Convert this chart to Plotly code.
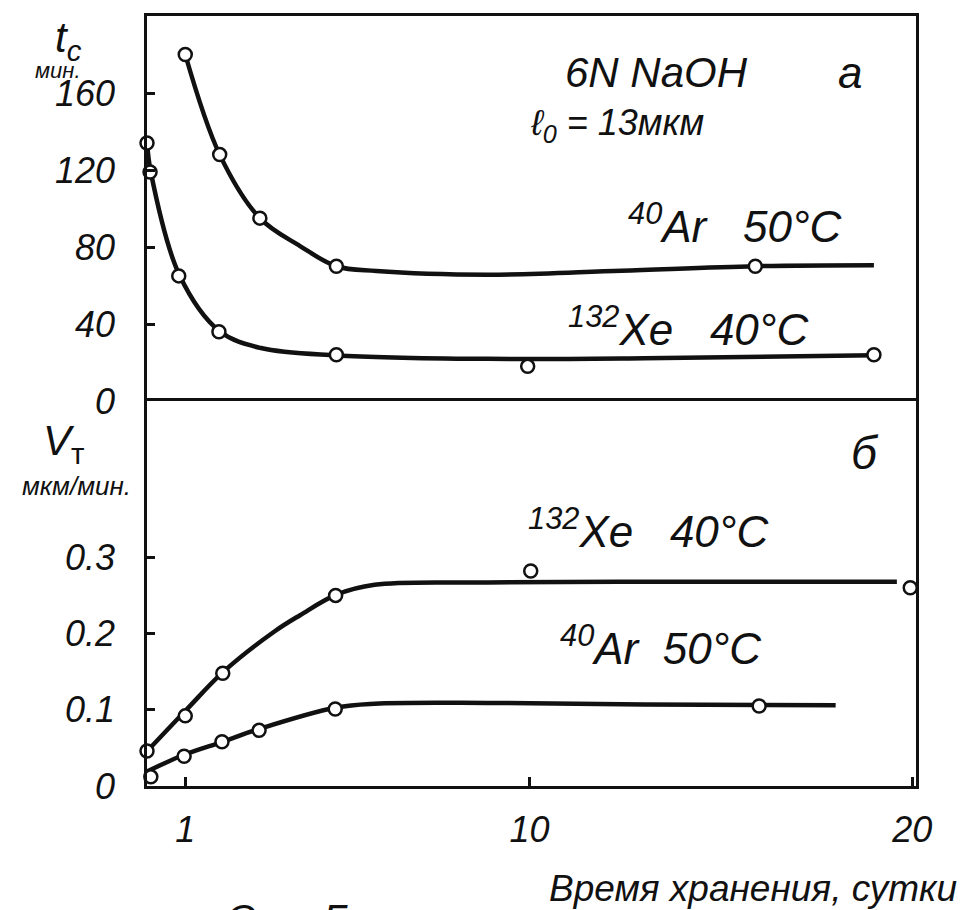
import plotly.graph_objects as go

# ---------------- data ----------------
# Upper panel: t_c (мин.) vs storage time (сутки)
ar_tc_x = [1.0, 1.9, 2.95, 4.95, 15.9]
ar_tc_y = [180, 128, 95, 70, 70]
xe_tc_x = [0.0, 0.08, 0.83, 1.88, 4.95, 9.95, 19.0]
xe_tc_y = [134, 119, 65, 36, 24, 18, 24]

# hand-drawn fitted curves (knots)
ar_tc_curve_x = [1.0, 1.9, 2.95, 4.0, 4.95, 6.0, 8.9, 12.4, 15.9, 19.0]
ar_tc_curve_y = [180, 128, 95, 80.5, 70, 67.5, 65.6, 67.7, 70, 70.5]
xe_tc_curve_x = [0.0, 0.1, 0.85, 1.9, 2.98, 4.96, 8.9, 13.0, 19.0]
xe_tc_curve_y = [134.4, 118.8, 65.3, 36.2, 27.5, 23.7, 21.9, 22.2, 23.8]

# Lower panel: V_T (мкм/мин.)
xe_v_x = [0.0, 1.0, 1.98, 4.93, 10.03, 19.95]
xe_v_y = [0.046, 0.092, 0.148, 0.25, 0.282, 0.26]
ar_v_x = [0.1, 0.97, 1.96, 2.93, 4.92, 16.0]
ar_v_y = [0.012, 0.039, 0.058, 0.073, 0.101, 0.105]

xe_v_curve_x = [0.0, 1.03, 2.0, 3.34, 4.0, 4.95, 5.95, 8.9, 15.0, 19.6]
xe_v_curve_y = [0.0455, 0.100, 0.150, 0.203, 0.224, 0.251, 0.264, 0.267, 0.268, 0.268]
ar_v_curve_x = [0.0, 0.97, 1.97, 2.94, 4.94, 5.95, 8.9, 13.0, 18.0]
ar_v_curve_y = [0.019, 0.041, 0.058, 0.075, 0.103, 0.108, 0.109, 0.107, 0.106]

x_ticks = [1, 10, 20]
x_ticktext = ["1", "10", "20"]
tc_ticks = [0, 40, 80, 120, 160]
tc_ticktext = ["0", "40", "80", "120", "160"]
v_ticks = [0, 0.1, 0.2, 0.3]
v_ticktext = ["0", "0.1", "0.2", "0.3"]

# ---------------- figure ----------------
FONT = "Liberation Sans"
INK = "#111111"

fig = go.Figure()

def curve(x, y, xa, ya):
    fig.add_trace(go.Scatter(x=x, y=y, xaxis=xa, yaxis=ya, mode="lines",
                             line=dict(color=INK, width=4.5, shape="spline", smoothing=1.0),
                             hoverinfo="skip", showlegend=False))

def points(x, y, xa, ya):
    fig.add_trace(go.Scatter(x=x, y=y, xaxis=xa, yaxis=ya, mode="markers",
                             marker=dict(symbol="circle", size=13, color="white",
                                         line=dict(color=INK, width=2.5)),
                             cliponaxis=False, showlegend=False))

curve(ar_tc_curve_x, ar_tc_curve_y, "x2", "y2")
curve(xe_tc_curve_x, xe_tc_curve_y, "x2", "y2")
curve(xe_v_curve_x, xe_v_curve_y, "x", "y")
curve(ar_v_curve_x, ar_v_curve_y, "x", "y")
points(ar_tc_x, ar_tc_y, "x2", "y2")
points(xe_tc_x, xe_tc_y, "x2", "y2")
points(xe_v_x, xe_v_y, "x", "y")
points(ar_v_x, ar_v_y, "x", "y")

tickfont = dict(family=FONT, size=36, color=INK, style="italic")
line_common = dict(showline=True, linecolor=INK, linewidth=2.5,
                   showgrid=False, zeroline=False)

L, R, T, B = 139, 60, 8, 132
W, H = 968, 910
PW, PH = W - L - R, H - T - B

def P(px, py):
    return (px - L) / PW, (H - B - py) / PH

ann = []
def text(px, py, s, size, xanchor="center"):
    x, y = P(px, py)
    ann.append(dict(x=x, y=y, xref="paper", yref="paper", text=s, showarrow=False,
                    xanchor=xanchor, yanchor="middle",
                    font=dict(family=FONT, size=size, color=INK, style="italic")))

# upper panel labels
text(648, 65, "6N NaOH", 42)
text(520, 117, "ℓ<sub>0</sub> = 13мкм", 36, "left")
text(842, 64, "а", 44)
text(727, 215, "<sup>40</sup>Ar   50°C", 44)
text(680, 318, "<sup>132</sup>Xe   40°C", 44)
# lower panel labels
text(857, 445, "б", 46)
text(640, 520, "<sup>132</sup>Xe   40°C", 44)
text(653, 637, "<sup>40</sup>Ar  50°C", 44)
# axis titles
text(60, 33, "t<sub>c</sub>", 42)
text(50, 63, "мин.", 22)
text(55, 435, "V<sub><span style='font-style:normal'>т</span></sub>", 42)
text(68, 478, "мкм/мин.", 26)
text(745, 880, "Время хранения, сутки", 37)
# cut-off text at the bottom edge (only the tops show, as in the reference)
text(233, 911, "О", 40)
text(328, 911, "Б", 40)

fig.update_layout(
    width=W, height=H,
    margin=dict(l=L, r=R, t=T, b=B),
    paper_bgcolor="white", plot_bgcolor="white",
    showlegend=False,
    # lower x axis: bottom frame + mirrored top (the divider)
    xaxis=dict(**line_common, mirror=True, domain=[0, 1], range=[0, 20.1], anchor="y",
               ticks="inside", ticklen=9, tickwidth=2.5, tickcolor=INK,
               tickvals=x_ticks, ticktext=x_ticktext, tickfont=tickfont,
               ticklabelstandoff=10),
    yaxis=dict(**line_common, mirror=True, domain=[0, 0.5], range=[0, 0.505], anchor="x",
               ticks="inside", ticklen=8, tickwidth=2.5, tickcolor=INK,
               tickvals=v_ticks, ticktext=v_ticktext, tickfont=tickfont,
               ticklabelstandoff=22),
    # upper x axis: only the top frame line
    xaxis2=dict(**line_common, mirror=False, side="top", domain=[0, 1], range=[0, 20.1],
                anchor="y2", matches="x", showticklabels=False, ticks=""),
    yaxis2=dict(**line_common, mirror=True, domain=[0.5, 1], range=[0, 200], anchor="x2",
                ticks="inside", ticklen=8, tickwidth=2.5, tickcolor=INK,
                tickvals=tc_ticks, ticktext=tc_ticktext, tickfont=tickfont,
                ticklabelstandoff=22),
    annotations=ann,
)

fig.write_html("out.html")
